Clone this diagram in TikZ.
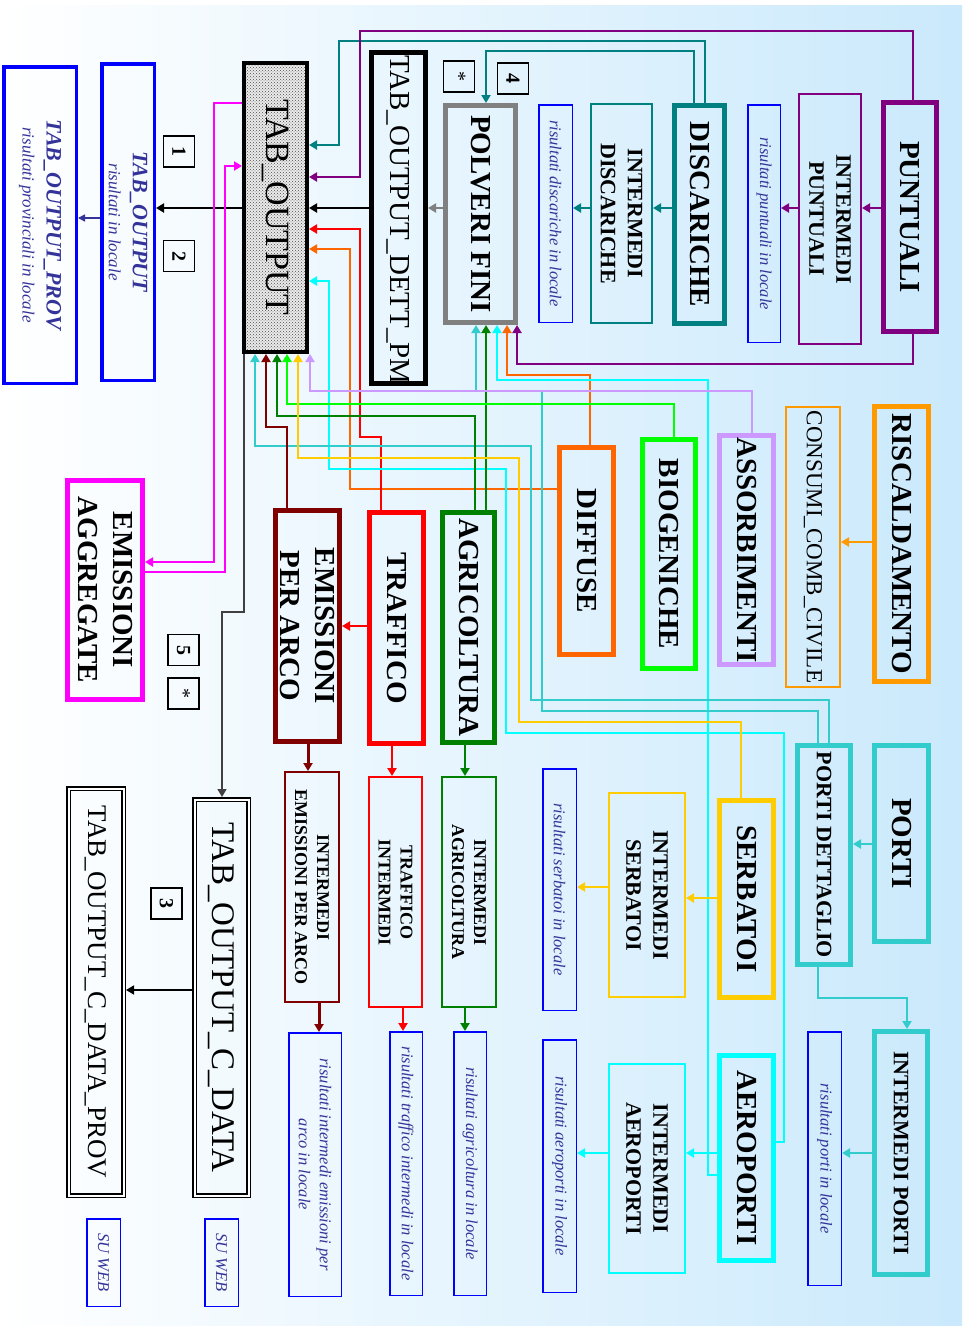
\documentclass[tikz,border=0pt]{standalone}
\usepackage{fontspec}
\setmainfont{Liberation Serif}
\usetikzlibrary{arrows.meta,patterns}
\definecolor{cPurple}{HTML}{800080}
\definecolor{cTeal}{HTML}{008080}
\definecolor{cGrey}{HTML}{808080}
\definecolor{cOrange}{HTML}{FF6600}
\definecolor{cLime}{HTML}{00FF00}
\definecolor{cLav}{HTML}{CC99FF}
\definecolor{cAmber}{HTML}{FF9900}
\definecolor{cTurq}{HTML}{33CCCC}
\definecolor{cGold}{HTML}{FFCC00}
\definecolor{cCyan}{HTML}{00FFFF}
\definecolor{cDRed}{HTML}{800000}
\definecolor{cRed}{HTML}{FF0000}
\definecolor{cGreen}{HTML}{008000}
\definecolor{cMag}{HTML}{FF00FF}
\definecolor{cBlue}{HTML}{0000FF}
\definecolor{cText}{HTML}{333399}
\definecolor{cBg}{RGB}{202,233,252}
\newcommand\fbig{\fontsize{29}{35}\selectfont\bfseries}
\newcommand\fmid{\fontsize{22}{27}\selectfont\bfseries}
\newcommand\fsml{\fontsize{18}{22}\selectfont\bfseries}
\newcommand\fris{\fontsize{16.5}{21}\selectfont\itshape}
\tikzset{
  boxbase/.style={rectangle, rotate=-90, inner sep=0pt, align=center},
  bigbox/.style={boxbase, draw=#1, line width=5pt, outer sep=2.5pt, font=\fbig},
  midbox/.style={boxbase, draw=#1, line width=2pt, outer sep=1pt, font=\fmid},
  smlbox/.style={boxbase, draw=#1, line width=2pt, outer sep=1pt, font=\fsml},
  risbox/.style={boxbase, draw=cBlue, line width=1.5pt, outer sep=0.75pt, font=\fris, text=cText},
  blbox/.style={boxbase, draw=cBlue, line width=3.5pt, outer sep=1.75pt, font=\fontsize{17}{24}\selectfont\itshape, text=cText},
  numbox/.style={boxbase, draw=black, line width=1.3pt, outer sep=0.65pt, minimum size=31pt, font=\fontsize{20}{24}\selectfont\bfseries},
  dblbox/.style={boxbase, draw=black, double=white, double distance=2pt, line width=1.5pt, outer sep=2.5pt},
  sz/.style 2 args={minimum height=#1pt, minimum width=#2pt},
  conn/.style={line width=2pt, -{Triangle[length=8pt,width=9pt]}},
}
\begin{document}
\begin{tikzpicture}[x=1pt,y=-1pt]
\useasboundingbox (0,0) rectangle (971,1326);
\shade[left color=white,right color=cBg] (0,5) rectangle (962,1326);

% ---------- left column ----------
\node[blbox, sz={72.5}{316.5}] (prov) at (40,225) {{\fontsize{22}{24}\selectfont\bfseries TAB\_OUTPUT\_PROV}\\risultati provinciali in locale};
\node[blbox, sz={52.5}{316.5}] (outb) at (128,222) {{\fontsize{22}{24}\selectfont\bfseries TAB\_OUTPUT}\\risultati in locale};
\node[numbox] (n1) at (179,151.5) {1};
\node[numbox] (n2) at (179,256) {2};
\node[boxbase, draw=black, line width=4pt, outer sep=2pt, preaction={fill=black!8}, pattern=crosshatch dots, pattern color=black!70, sz={63}{289}, font=\fontsize{34}{40}\selectfont] (tabout) at (275.5,207.5) {TAB\_OUTPUT};
\node[rotate=-90, anchor=west, inner sep=0pt, font=\fontsize{29}{35}\selectfont] (dettpmt) at (398.5,55) {TAB\_OUTPUT\_DETT\_PM};
\node[boxbase, draw=black, line width=5pt, outer sep=2.5pt, sz={54}{331}] (dettpm) at (398.5,218) {};
\node[numbox, font=\fontsize{20}{24}\selectfont] (st1) at (459,76.5) {*};
\node[numbox] (n4) at (513,78.5) {4};

% ---------- top row ----------
\node[bigbox=cGrey, sz={70}{217}] (polv) at (480.5,214) {POLVERI FINI};
\node[risbox, sz={33.5}{217.5}] (rdisc) at (555.5,213.5) {risultati discariche in locale};
\node[midbox=cTeal, sz={61}{219}] (idisc) at (621.5,213.5) {INTERMEDI\\DISCARICHE};
\node[bigbox=cTeal, sz={50}{218}] (disc) at (699.5,214.5) {DISCARICHE};
\node[risbox, sz={32.5}{237.5}] (rpunt) at (764,223.5) {risultati puntuali in locale};
\node[midbox=cPurple, sz={62}{250}] (ipunt) at (830,219) {INTERMEDI\\PUNTUALI};
\node[bigbox=cPurple, sz={53}{229}] (punt) at (910,217) {PUNTUALI};

% ---------- middle ----------
\node[bigbox=cMag, sz={75}{219}] (emagg) at (105,590) {EMISSIONI\\AGGREGATE};
\node[numbox] (n5) at (183.5,650) {5};
\node[numbox, font=\fontsize{20}{24}\selectfont] (st2) at (183.5,693.5) {*};
\node[bigbox=cDRed, sz={64}{231}] (emarco) at (307.5,626) {EMISSIONI\\PER ARCO};
\node[bigbox=cRed, sz={54}{231}] (traf) at (396.5,628) {TRAFFICO};
\node[bigbox=cGreen, sz={52}{230}] (agri) at (468.5,627.5) {AGRICOLTURA};
\node[bigbox=cOrange, sz={54}{207}] (diff) at (586.5,551) {DIFFUSE};
\node[bigbox=cLime, sz={53}{229}] (biog) at (669,554) {BIOGENICHE};
\node[bigbox=cLav, sz={54}{229}] (assorb) at (746.5,550) {ASSORBIMENTI};
\node[midbox=cAmber, sz={54}{280}, font=\fontsize{23}{27}\selectfont] (cons) at (813,547) {CONSUMI\_COMB\_CIVILE};
\node[bigbox=cAmber, sz={54}{275}] (risc) at (901.5,544) {RISCALDAMENTO};

% ---------- lower ----------
\node[dblbox, sz={54}{396}, font=\fontsize{33}{38}\selectfont] (cdata) at (221.5,997.5) {TAB\_OUTPUT\_C\_DATA};
\node[dblbox, sz={55}{407}, font=\fontsize{27}{32}\selectfont] (cprov) at (96,992) {TAB\_OUTPUT\_C\_DATA\_PROV};
\node[numbox] (n3) at (166.5,903.5) {3};
\node[risbox, sz={33.5}{87.5}] (web1) at (103.5,1262.5) {SU WEB};
\node[risbox, sz={33.5}{87.5}] (web2) at (221.5,1262.5) {SU WEB};
\node[smlbox=cDRed, sz={54}{230}] (iemarco) at (312,887) {INTERMEDI\\EMISSIONI PER ARCO};
\node[risbox, sz={52.5}{263.5}] (remarco) at (315,1164.5) {risultati intermedi emissioni per\\arco in locale};
\node[smlbox=cRed, sz={53}{230}] (itraf) at (395.5,892) {TRAFFICO\\INTERMEDI};
\node[risbox, sz={32.5}{263.5}] (rtraf) at (406,1163.5) {risultati traffico intermedi in locale};
\node[smlbox=cGreen, sz={54}{230}] (iagri) at (469,892) {INTERMEDI\\AGRICOLTURA};
\node[risbox, sz={32.5}{263.5}] (ragri) at (470,1163.5) {risultati agricoltura in locale};
\node[risbox, sz={33.5}{241.5}] (rserb) at (559.5,889.5) {risultati serbatoi in locale};
\node[midbox=cGold, sz={76}{204}] (iserb) at (647,895) {INTERMEDI\\SERBATOI};
\node[bigbox=cGold, sz={54}{197}] (serb) at (746.5,899) {SERBATOI};
\node[bigbox=cTurq, sz={53}{219}, font=\fmid] (pdett) at (824,855) {PORTI DETTAGLIO};
\node[bigbox=cTurq, sz={54}{196}] (porti) at (901.5,843.5) {PORTI};
\node[risbox, sz={33.5}{252.5}] (raero) at (559.5,1166) {risultati aeroporti in locale};
\node[midbox=cCyan, sz={76}{209}] (iaero) at (647,1168.5) {INTERMEDI\\AEROPORTI};
\node[bigbox=cCyan, sz={54}{205}] (aero) at (746.5,1158) {AEROPORTI};
\node[risbox, sz={33.5}{253.5}] (rporti) at (824.5,1158.5) {risultati porti in locale};
\node[bigbox=cTurq, sz={53}{243}, font=\fmid] (iporti) at (901,1153) {INTERMEDI PORTI};

% ---------- connectors ----------
\draw[conn,cPurple] (punt.south |- 0,208) -- (ipunt.north |- 0,208);
\draw[conn,cPurple] (ipunt.south |- 0,208) -- (rpunt.north |- 0,208);
\draw[conn,cTeal] (disc.south |- 0,208) -- (idisc.north |- 0,208);
\draw[conn,cTeal] (idisc.south |- 0,208) -- (rdisc.north |- 0,208);
\draw[conn,cGrey] (polv.south |- 0,208) -- (dettpm.north |- 0,208);
\draw[conn] (dettpm.south |- 0,208) -- (tabout.north |- 0,208);
\draw[conn] (tabout.south |- 0,208) -- (outb.north |- 0,208);
\draw[conn,cText,line width=1.5pt,-{Triangle[length=7pt,width=7pt]}] (outb.south |- 0,218) -- (prov.north |- 0,218);
\draw[conn,cTeal] (disc.west -| 705,0) |- (339,41) |- (tabout.north |- 0,145);
\draw[conn,cTeal] (disc.west -| 694,0) |- (486,51) -- (polv.west -| 486,0);
\draw[conn,cPurple] (punt.west -| 913,0) |- (360,31) |- (tabout.north |- 0,177);
\draw[conn,cPurple] (punt.east -| 913,0) |- (517,364) -- (polv.east -| 517,0);
\draw[conn,cOrange] (diff.west -| 590,0) |- (507,375) -- (polv.east -| 507,0);
\draw[conn,cOrange] (diff.south |- 0,489) -| (350,249) -- (tabout.north |- 0,249);
\draw[conn,cRed] (traf.west -| 381,0) |- (360,437) |- (tabout.north |- 0,229);
\draw[conn,cCyan] (aero.north |- 0,1142) -| (784,733) -| (506,469) -| (329,281) -- (tabout.north |- 0,281);
\draw[conn,cCyan] (aero.south |- 0,1175) -| (708,380) -| (polv.east -| 497,0);
\draw[conn,cTurq] (pdett.west -| 829,0) |- (531,700) |- (255,446) -- (tabout.east -| 255,0);
\draw[conn,cTurq] (pdett.west -| 818,0) |- (542,711) |- (476,391) -- (polv.east -| 476,0);
\draw[conn,cDRed] (emarco.west -| 287,0) |- (266,427) -- (tabout.east -| 266,0);
\draw[conn,cGreen] (agri.west -| 475,0) |- (277,416) -- (tabout.east -| 277,0);
\draw[conn,cGreen] (agri.west -| 486,0) -- (polv.east -| 486,0);
\draw[conn,cLime] (biog.west -| 674,0) |- (287,404) -- (tabout.east -| 287,0);
\draw[conn,cGold] (serb.west -| 741,0) |- (519,722) |- (298,458) -- (tabout.east -| 298,0);
\draw[conn,cLav] (assorb.west -| 752,0) |- (310,391) -- (tabout.east -| 310,0);
\draw[conn,cMag] (tabout.south |- 0,103) -| (214,562) -- (emagg.north |- 0,562);
\draw[conn,cMag] (emagg.north |- 0,572) -| (225,166) -- (tabout.south |- 0,166);
\draw[conn,black!75,line width=1.5pt] (tabout.east -| 244,0) |- (222,612) -- (cdata.west -| 222,0);
\draw[conn,line width=1.5pt] (cdata.south |- 0,990) -- (cprov.north |- 0,990);
\draw[conn,cRed] (traf.south |- 0,626) -- (emarco.north |- 0,626);
\draw[conn,cAmber] (risc.south |- 0,542) -- (cons.north |- 0,542);
\draw[conn,cTurq] (porti.south |- 0,844) -- (pdett.north |- 0,844);
\draw[conn,cTurq] (pdett.east -| 818,0) |- (907,998) -- (iporti.west -| 907,0);
\draw[conn,cTurq] (iporti.south |- 0,1153) -- (rporti.north |- 0,1153);
\draw[conn,cGold] (serb.south |- 0,898) -- (iserb.north |- 0,898);
\draw[conn,cGold] (iserb.south |- 0,887) -- (rserb.north |- 0,887);
\draw[conn,cCyan] (aero.south |- 0,1153) -- (iaero.north |- 0,1153);
\draw[conn,cCyan] (iaero.south |- 0,1153) -- (raero.north |- 0,1153);
\draw[conn,cDRed,line width=3pt] (emarco.east -| 308,0) -- (iemarco.west -| 308,0);
\draw[conn,cDRed,line width=3pt] (iemarco.east -| 319,0) -- (remarco.west -| 319,0);
\draw[conn,cRed] (traf.east -| 392,0) -- (itraf.west -| 392,0);
\draw[conn,cRed] (itraf.east -| 403,0) -- (rtraf.west -| 403,0);
\draw[conn,cGreen] (agri.east -| 465,0) -- (iagri.west -| 465,0);
\draw[conn,cGreen] (iagri.east -| 465,0) -- (ragri.west -| 465,0);
\end{tikzpicture}
\end{document}
